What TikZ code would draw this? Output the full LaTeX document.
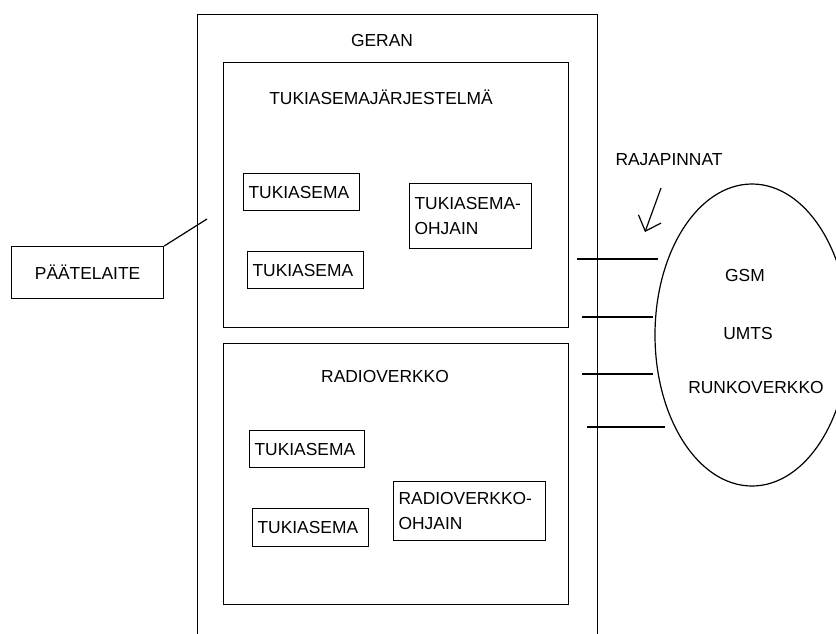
\documentclass[tikz,border=0pt]{standalone}
\usepackage{fontspec}
\setmainfont{Liberation Sans}
\usetikzlibrary{shapes.geometric,arrows.meta}
\begin{document}
\begin{tikzpicture}[x=1pt,y=-1pt,
  every node/.style={font=\fontsize{17.4}{25}\selectfont},
  frame/.style={draw,line width=1.2pt,inner sep=0pt,anchor=north west},
  unitbox/.style={draw,line width=1.2pt,anchor=north west,inner xsep=5pt,inner ysep=0pt,align=left},
  lbl/.style={inner sep=0pt},
  wire/.style={line width=1.2pt}]
\useasboundingbox (0,0) rectangle (836,633);
% outer GERAN frame (open at the bottom)
\node[frame,minimum width=400,minimum height=700] (geran) at (197,14) {};
\node[lbl] (geranlbl) at (382,41) {GERAN};
% base station system
\node[frame,minimum width=345,minimum height=265] (bss) at (223,62) {};
\node[lbl] (bsslbl) at (381,97) {TUKIASEMAJÄRJESTELMÄ};
\node[unitbox,text width=106,minimum height=37] (bts1) at (243,173) {TUKIASEMA};
\node[unitbox,text width=106,minimum height=37] (bts2) at (247,251) {TUKIASEMA};
\node[unitbox,text width=112,minimum height=65] (bsc) at (409,183) {TUKIASEMA-\\OHJAIN};
% radio network
\node[frame,minimum width=345,minimum height=261] (rn) at (223,343) {};
\node[lbl] (rnlbl) at (385,377) {RADIOVERKKO};
\node[unitbox,text width=105,minimum height=37] (bts3) at (249,430) {TUKIASEMA};
\node[unitbox,text width=106,minimum height=38] (bts4) at (252,508) {TUKIASEMA};
\node[unitbox,text width=142,minimum height=59] (rnc) at (393,481) {RADIOVERKKO-\\OHJAIN};
% terminal
\node[draw,line width=1.2pt,minimum width=152,minimum height=52,inner sep=0pt,anchor=north west] (ms) at (11,246) {PÄÄTELAITE};
\coordinate (msend) at (207,219);
\draw[wire] (ms.north east) -- (msend);
% core network
\node[draw,line width=1.2pt,ellipse,minimum width=194,minimum height=302,inner sep=0pt] (core) at (752,335) {};
\node[lbl] (gsm) at (745,276) {GSM};
\node[lbl] (umts) at (748,334) {UMTS};
\node[lbl] (runko) at (756,388) {RUNKOVERKKO};
% interfaces
\node[lbl] (raja) at (669,160) {RAJAPINNAT};
\coordinate (i1a) at (577,259); \coordinate (i1b) at (658,259);
\coordinate (i2a) at (582,317); \coordinate (i2b) at (653,317);
\coordinate (i3a) at (582,374); \coordinate (i3b) at (653,374);
\coordinate (i4a) at (587,427); \coordinate (i4b) at (665,427);
\draw[wire] (i1a) -- (i1b);
\draw[wire] (i2a) -- (i2b);
\draw[wire] (i3a) -- (i3b);
\draw[wire] (i4a) -- (i4b);
\coordinate (arrs) at (661,188); \coordinate (arre) at (645,232);
\draw[wire,-{Straight Barb[length=13pt,width=24pt,line width=1.2pt]}] (arrs) -- (arre);
\end{tikzpicture}
\end{document}
